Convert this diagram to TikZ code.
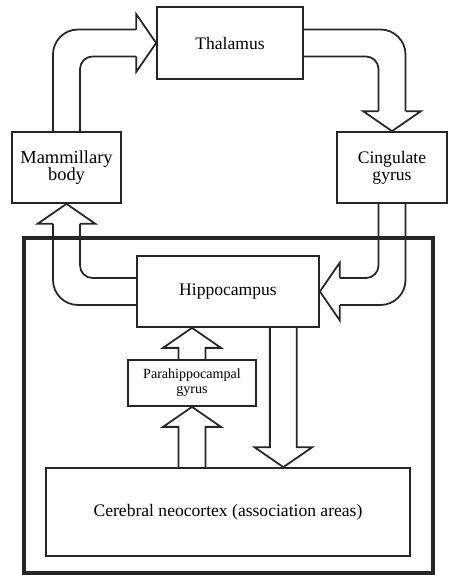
\documentclass[tikz,border=0pt]{standalone}
\usepackage{fontspec}
\setmainfont{Liberation Serif}
\usetikzlibrary{calc}

% hollow arrow sizes: half shaft, half head, head length
\newcommand{\arrsw}{0.27cm}
\newcommand{\arrhw}{0.58cm}
\newcommand{\arrhl}{0.4cm}

% straight hollow arrows, #1 = foot, #2 = tip
\newcommand{\fatup}[2]{\draw[fat] let \p1=(#1), \p2=(#2) in
  (\x1-\arrsw,\y1) -- (\x1-\arrsw,\y2-\arrhl) -- (\x1-\arrhw,\y2-\arrhl) -- (\x1,\y2)
  -- (\x1+\arrhw,\y2-\arrhl) -- (\x1+\arrsw,\y2-\arrhl) -- (\x1+\arrsw,\y1);}
\newcommand{\fatdown}[2]{\draw[fat] let \p1=(#1), \p2=(#2) in
  (\x1-\arrsw,\y1) -- (\x1-\arrsw,\y2+\arrhl) -- (\x1-\arrhw,\y2+\arrhl) -- (\x1,\y2)
  -- (\x1+\arrhw,\y2+\arrhl) -- (\x1+\arrsw,\y2+\arrhl) -- (\x1+\arrsw,\y1);}

% heads only, #1 = tip
\newcommand{\headright}[1]{\draw[fat] let \p1=(#1) in
  (\x1-\arrhl,\y1+\arrsw) -- (\x1-\arrhl,\y1+\arrhw) -- (\p1) -- (\x1-\arrhl,\y1-\arrhw) -- (\x1-\arrhl,\y1-\arrsw);}
\newcommand{\headleft}[1]{\draw[fat] let \p1=(#1) in
  (\x1+\arrhl,\y1+\arrsw) -- (\x1+\arrhl,\y1+\arrhw) -- (\p1) -- (\x1+\arrhl,\y1-\arrhw) -- (\x1+\arrhl,\y1-\arrsw);}
\newcommand{\headdown}[1]{\draw[fat] let \p1=(#1) in
  (\x1-\arrsw,\y1+\arrhl) -- (\x1-\arrhw,\y1+\arrhl) -- (\p1) -- (\x1+\arrhw,\y1+\arrhl) -- (\x1+\arrsw,\y1+\arrhl);}
\newcommand{\headup}[1]{\draw[fat] let \p1=(#1) in
  (\x1-\arrsw,\y1-\arrhl) -- (\x1-\arrhw,\y1-\arrhl) -- (\p1) -- (\x1+\arrhw,\y1-\arrhl) -- (\x1+\arrsw,\y1-\arrhl);}

\begin{document}
\begin{tikzpicture}[x=0.02cm, y=-0.02cm,
   area/.style={draw=black!85, line width=1pt, inner sep=0pt, align=center,
                font=\fontsize{10}{9.6}\selectfont},
   fat/.style={draw=black!85, line width=1pt, line join=miter},
   outer/.style={fat, rounded corners=0.5cm},
   inner/.style={fat, rounded corners=0.25cm}]

 \useasboundingbox (0,0) rectangle (449,575);

 \node[area, minimum width=2.92cm, minimum height=1.44cm] (thal) at (230,43) {Thalamus};
 \node[area, minimum width=2.18cm, minimum height=1.42cm, font=\fontsize{10.5}{9.6}\selectfont] (mamm) at (66.5,167.5) {Mammillary\\body};
 \node[area, minimum width=2.2cm, minimum height=1.42cm] (cing) at (392,167.5) {Cingulate\\gyrus};
 \node[area, minimum width=3.64cm, minimum height=1.42cm] (hippo) at (228,291.5) {Hippocampus};
 \node[area, minimum width=2.56cm, minimum height=0.92cm, font=\fontsize{8}{8.5}\selectfont] (para) at (192,383) {Parahippocampal\\gyrus};
 \node[area, minimum width=7.28cm, minimum height=1.76cm] (cortex) at (228,512) {Cerebral neocortex (association areas)};
 \coordinate (hc) at ([xshift=-0.73cm]hippo.south east);

 % limbic frame
 \draw[draw=black!85, line width=1.8pt] (24,238) rectangle (433,573);

 % mammillary body -> thalamus
 \draw[outer] let \p1=(mamm.north), \p2=(thal.west) in (\x1-\arrsw,\y1) |- (\x2-\arrhl,\y2+\arrsw);
 \draw[inner] let \p1=(mamm.north), \p2=(thal.west) in (\x1+\arrsw,\y1) |- (\x2-\arrhl,\y2-\arrsw);
 \headright{thal.west}

 % thalamus -> cingulate gyrus
 \draw[outer] let \p1=(thal.east), \p2=(cing.north) in (\x1,\y1+\arrsw) -| (\x2+\arrsw,\y2+\arrhl);
 \draw[inner] let \p1=(thal.east), \p2=(cing.north) in (\x1,\y1-\arrsw) -| (\x2-\arrsw,\y2+\arrhl);
 \headdown{cing.north}

 % hippocampus -> mammillary body
 \draw[outer] let \p1=(hippo.west), \p2=(mamm.south) in (\x1,\y1-\arrsw) -| (\x2-\arrsw,\y2-\arrhl);
 \draw[inner] let \p1=(hippo.west), \p2=(mamm.south) in (\x1,\y1+\arrsw) -| (\x2+\arrsw,\y2-\arrhl);
 \headup{mamm.south}

 % cingulate gyrus -> hippocampus
 \draw[outer] let \p1=(cing.south), \p2=(hippo.east) in (\x1+\arrsw,\y1) |- (\x2+\arrhl,\y2-\arrsw);
 \draw[inner] let \p1=(cing.south), \p2=(hippo.east) in (\x1-\arrsw,\y1) |- (\x2+\arrhl,\y2+\arrsw);
 \headleft{hippo.east}

 % inside the frame
 \fatup{para.north}{para.north |- hippo.south}
 \fatup{para.south |- cortex.north}{para.south}
 \fatdown{hc}{hc |- cortex.north}
\end{tikzpicture}
\end{document}
